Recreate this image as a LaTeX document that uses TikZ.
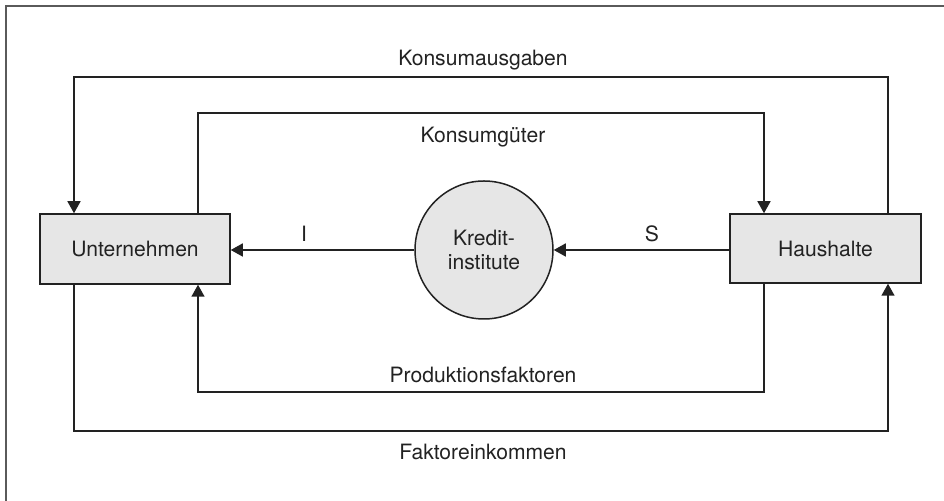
\documentclass[tikz,border=0pt]{standalone}
\usepackage{fontspec}
\setmainfont{TeX Gyre Heros}
\usetikzlibrary{arrows.meta}
\definecolor{ink}{HTML}{222222}
\definecolor{boxfill}{HTML}{E6E6E6}
\definecolor{framecol}{HTML}{5A5A5A}
\tikzset{
  every node/.style={font=\fontsize{10.55}{12.4}\selectfont, text=ink},
  agent/.style={draw=ink, line width=0.75pt, fill=boxfill, rectangle, inner sep=0pt},
  bank/.style={draw=ink, line width=0.75pt, fill=boxfill, circle, inner sep=0pt, minimum size=69pt, align=center},
  flow/.style={draw=ink, line width=0.75pt, -{Triangle[length=6pt,width=6.5pt]}},
  lbl/.style={anchor=base, inner sep=0pt}
}
\begin{document}
\begin{tikzpicture}[x=0.5pt, y=-0.5pt]
\useasboundingbox (0,0) rectangle (944,501);
% frame (cropped at right and bottom)
\draw[framecol, line width=1pt] (5.5,501) -- (5.5,6) -- (944,6);

\node[agent, minimum width=95pt, minimum height=35pt] (U) at (135,249) {Unternehmen};
\node[agent, minimum width=95.5pt, minimum height=34.5pt] (H) at (825.5,248.5) {Haushalte};
\node[bank] (K) at (484,250) {Kredit-\\institute};

\coordinate (ka) at (888,77);
\coordinate (kb) at (74,77);
\coordinate (gu) at (198,113);
\coordinate (gh) at (764,113);
\coordinate (pf1) at (764,392);
\coordinate (pf2) at (198,392);
\coordinate (fe1) at (74,431);
\coordinate (fe2) at (888,431);

\draw[flow] (H.north -| ka) -- (ka) -- (kb) -- (U.north -| kb);
\draw[flow] (U.north -| gu) -- (gu) -- (gh) -- (H.north -| gh);
\draw[flow] (H.south -| pf1) -- (pf1) -- (pf2) -- (U.south -| pf2);
\draw[flow] (U.south -| fe1) -- (fe1) -- (fe2) -- (H.south -| fe2);
\draw[flow] (K.west |- 0,250) -- (U.east |- 0,250);
\draw[flow] (H.west |- 0,250) -- (K.east |- 0,250);

\node[lbl] (tka) at (483,66) {Konsumausgaben};
\node[lbl] (tkg) at (483,143) {Konsumgüter};
\node[lbl] (ti) at (304,242) {I};
\node[lbl] (ts) at (652,242) {S};
\node[lbl] (tpf) at (483,383) {Produktionsfaktoren};
\node[lbl] (tfe) at (483,460) {Faktoreinkommen};
\end{tikzpicture}
\end{document}
